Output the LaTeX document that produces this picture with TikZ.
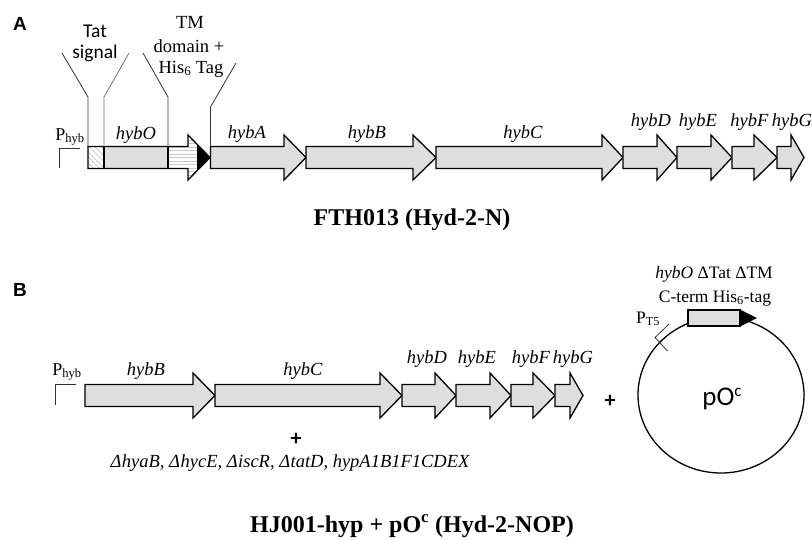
\documentclass[tikz,border=0pt]{standalone}
\usepackage{fontspec}
\setmainfont{Liberation Serif}
\newfontfamily\calibri{Carlito}
\newfontfamily\arialf{Liberation Sans}
\usetikzlibrary{patterns.meta}
\definecolor{genegray}{HTML}{DEDEDE}
\newcommand{\garrow}[4]{\draw[gene] (#1,#4-11) -- (#2,#4-11) -- (#2,#4-22.5) -- (#3,#4) -- (#2,#4+22.5) -- (#2,#4+11) -- (#1,#4+11) -- cycle;}
\begin{document}
\begin{tikzpicture}[x=1pt,y=-1pt,
  gene/.style={draw=black,fill=genegray,line width=1.3pt,line join=miter},
  outl/.style={draw=black,line width=1.3pt,line join=miter},
  glabel/.style={font=\fontsize{18.5}{20}\selectfont\itshape,inner sep=0pt,anchor=base},
  slabel/.style={font=\fontsize{18.5}{20}\selectfont,inner sep=0pt,anchor=base},
  callout/.style={draw=black!80,line width=0.8pt},
  title/.style={font=\fontsize{24}{28}\selectfont\bfseries,inner sep=0pt,anchor=base},
  panel/.style={font=\arialf\bfseries\fontsize{19}{20}\selectfont,inner sep=0pt,anchor=base},
  plus/.style={font=\calibri\bfseries\fontsize{22}{24}\selectfont,inner sep=0pt},
  prom/.style={draw=black!80,line width=0.8pt}]
\useasboundingbox (0,0) rectangle (812,539);

% ---------------- Panel A ----------------
\node[panel] (pA) at (20,30) {A};

% callout labels
\node[font=\calibri\fontsize{19.5}{20}\selectfont,inner sep=0pt,anchor=base] (tat1) at (95,37.5) {Tat};
\node[font=\calibri\fontsize{19.5}{20}\selectfont,inner sep=0pt,anchor=base] (tat2) at (95,58) {signal};
\node[slabel] (tm1) at (190,28.5) {TM};
\node[slabel] (tm2) at (189,52) {domain +};
\node[slabel] (tm3) at (191,73) {His\textsubscript{6} Tag};

% hybO pieces
\path[pattern={Lines[angle=-45,distance=4pt,line width=0.9pt]},pattern color=black!22] (88,146.5) rectangle (104,168.5);
\fill[genegray] (104,146.5) rectangle (168,168.5);
\path[pattern={Lines[angle=0,distance=3.5pt,line width=0.9pt]},pattern color=black!22]
  (168,146.5) -- (188,146.5) -- (188,135) -- (210,157.5) -- (188,180) -- (188,168.5) -- (168,168.5) -- cycle;
\fill[black] (197,144) -- (210,157.5) -- (197,171) -- cycle;
\draw[outl] (88,146.5) -- (188,146.5) -- (188,135) -- (210,157.5) -- (188,180) -- (188,168.5) -- (88,168.5) -- cycle;
\draw[outl] (104,146.5) -- (104,168.5);
\draw[outl] (168,146.5) -- (168,168.5);

% callout lines
\coordinate (c1a) at (62,53); \coordinate (c1b) at (88,97); \coordinate (c1c) at (88,146.5);
\coordinate (c2a) at (129,53); \coordinate (c2b) at (104,97); \coordinate (c2c) at (104,146.5);
\coordinate (c3a) at (143,53); \coordinate (c3b) at (168,97); \coordinate (c3c) at (168,146.5);
\coordinate (c4a) at (236,63); \coordinate (c4b) at (210.5,107); \coordinate (c4c) at (210.5,146.5);
\draw[callout] (c1a) -- (c1b) -- (c1c);
\draw[callout,draw=black!55] (c2a) -- (c2b) -- (c2c);
\draw[callout] (c3a) -- (c3b) -- (c3c);
\draw[callout] (c4a) -- (c4b) -- (c4c);

% promoter A
\node[font=\fontsize{18}{20}\selectfont,inner sep=0pt,anchor=base] (phybA) at (70,140) {P\textsubscript{hyb}};
\coordinate (pa1) at (80,148); \coordinate (pa2) at (59.5,148); \coordinate (pa3) at (59.5,168);
\draw[prom] (pa1) -- (pa2) -- (pa3);

% genes A
\garrow{210.5}{284}{306}{157.5}
\garrow{306}{413}{436}{157.5}
\garrow{436}{602}{623}{157.5}
\garrow{623}{657}{677}{157.5}
\garrow{677}{711}{732}{157.5}
\garrow{732}{754}{777}{157.5}
\garrow{777}{791}{804}{157.5}

\node[glabel] (lOa) at (136,139) {hybO};
\node[glabel] (lAa) at (247,138) {hybA};
\node[glabel] (lBa) at (367,138) {hybB};
\node[glabel] (lCa) at (523,138) {hybC};
\node[glabel] (lDa) at (651,126) {hybD};
\node[glabel] (lEa) at (698,126) {hybE};
\node[glabel] (lFa) at (749.5,126) {hybF};
\node[glabel] (lGa) at (792,126) {hybG};

\node[title] (tA) at (412,225) {FTH013 (Hyd-2-N)};

% ---------------- Panel B ----------------
\node[panel] (pB) at (20,296) {B};

\node[font=\fontsize{18}{20}\selectfont,inner sep=0pt,anchor=base] (phybB) at (67,375) {P\textsubscript{hyb}};
\coordinate (pb1) at (76,384); \coordinate (pb2) at (55.5,384); \coordinate (pb3) at (55.5,405);
\draw[prom] (pb1) -- (pb2) -- (pb3);

\garrow{85}{193}{215}{395.5}
\garrow{215}{380}{402}{395.5}
\garrow{402}{435}{456}{395.5}
\garrow{456}{490}{511}{395.5}
\garrow{511}{533}{555}{395.5}
\garrow{555}{570}{583}{395.5}

\node[glabel] (lBb) at (146,375) {hybB};
\node[glabel] (lCb) at (303,375) {hybC};
\node[glabel] (lDb) at (427,363) {hybD};
\node[glabel] (lEb) at (477,363) {hybE};
\node[glabel] (lFb) at (531,363) {hybF};
\node[glabel] (lGb) at (573,363) {hybG};

\node[plus] (plus1) at (296,439) {+};
\node[plus] (plus2) at (610,401) {+};

\node[glabel] (muts) at (290,467) {Δ\kern0.5pt hyaB, Δ\kern0.5pt hycE, Δ\kern0.5pt iscR, Δ\kern0.5pt tatD, hypA1B1F1CDEX};

% plasmid
\draw[line width=1.3pt] (721,395) ellipse [x radius=83, y radius=78];
\coordinate (pt0) at (655,337.5); \coordinate (pt1) at (669,324); \coordinate (pt2) at (667.5,351);
\draw[prom] (pt1) -- (pt0) -- (pt2);
\node[font=\fontsize{17.5}{20}\selectfont,inner sep=0pt,anchor=base] (pT5) at (648,323) {P\textsubscript{T5}};
\draw[gene] (688,310) rectangle (740,326);
\fill[black] (740,309.5) -- (757,318) -- (740,326.5) -- cycle;

\node[font=\fontsize{17.5}{20}\selectfont,inner sep=0pt,anchor=base] (ho1) at (714,278) {\textit{hybO} ΔTat ΔTM};
\node[font=\fontsize{17.5}{20}\selectfont,inner sep=0pt,anchor=base] (ho2) at (715,302) {C-term His\textsubscript{6}-tag};
\node[font=\calibri\fontsize{27}{30}\selectfont,inner sep=0pt,anchor=base] (poc) at (722,405) {pO\raisebox{9pt}{\fontsize{17}{18}\selectfont c}};

\node[title] (tB) at (412,532) {HJ001-hyp + pO\textsuperscript{c} (Hyd-2-NOP)};
\end{tikzpicture}
\end{document}
